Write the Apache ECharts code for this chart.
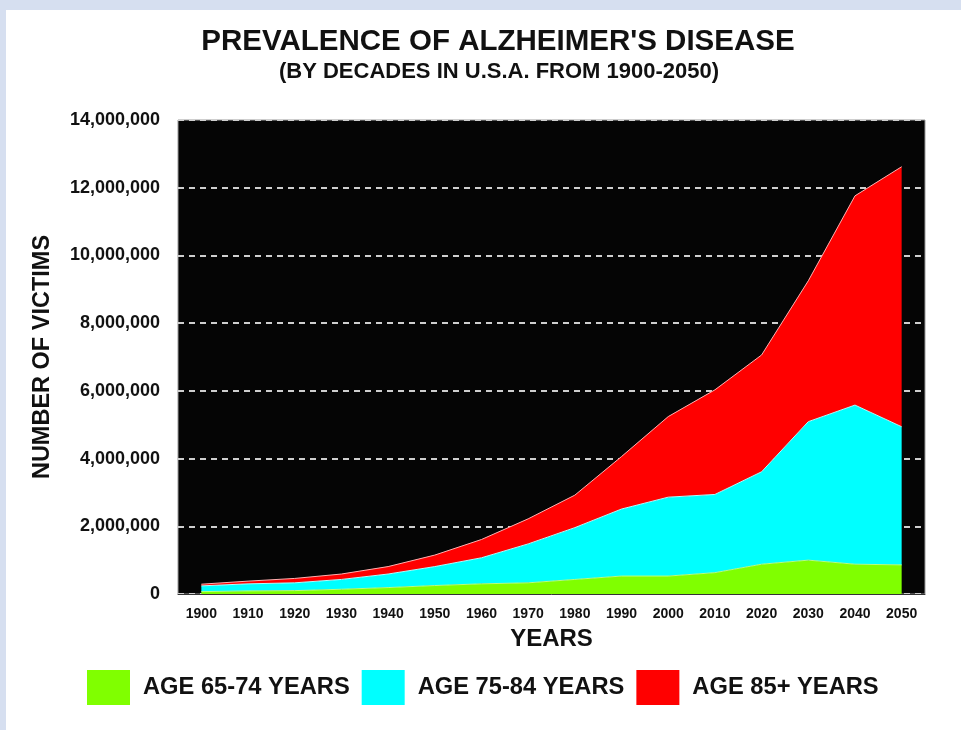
<!DOCTYPE html>
<html>
<head>
<meta charset="utf-8">
<script src="https://cdn.jsdelivr.net/npm/echarts@6/dist/echarts.min.js"></script>
<style>
  html, body { margin: 0; padding: 0; background: #fff; }
  #main { width: 961px; height: 730px; }
</style>
</head>
<body>
<div id="main"></div>
<script>
// decades on the x axis
const years = ['1900', '1910', '1920', '1930', '1940', '1950', '1960', '1970',
  '1980', '1990', '2000', '2010', '2020', '2030', '2040', '2050']

// number of victims per age group (stacked)
const age65to74 = [70000, 90000, 100000, 140000, 190000, 250000, 300000, 330000,
  430000, 530000, 530000, 630000, 880000, 1000000, 880000, 860000]
const age75to84 = [170000, 210000, 230000, 290000, 400000, 560000, 770000, 1150000,
  1530000, 1980000, 2330000, 2310000, 2730000, 4090000, 4700000, 4080000]
const age85plus = [50000, 80000, 130000, 160000, 220000, 340000, 540000, 740000,
  960000, 1550000, 2380000, 3090000, 3450000, 4160000, 6180000, 7680000]

const seriesNames = ['AGE 65-74 YEARS', 'AGE 75-84 YEARS', 'AGE 85+ YEARS']

const font = 'Liberation Sans, Arial, sans-serif'

const myChart = echarts.init(document.getElementById('main'))

function areaSeries(name, data, color, edge) {
  return {
    name: name,
    type: 'line',
    stack: 'total',
    data: data,
    showSymbol: false,
    symbol: 'none',
    lineStyle: { width: 1, color: edge },
    itemStyle: { color: color },
    areaStyle: { color: color, opacity: 1 }
  }
}

myChart.setOption({
  backgroundColor: '#fff',
  animation: false,
  graphic: [
    { type: 'rect', left: 0, top: 0, shape: { width: 961, height: 10 }, style: { fill: '#d6dff0' } },
    { type: 'rect', left: 0, top: 0, shape: { width: 6, height: 730 }, style: { fill: '#d6dff0' } }
  ],
  title: [
    {
      text: "PREVALENCE OF ALZHEIMER'S DISEASE",
      left: 493, top: 22, textAlign: 'center',
      textStyle: { fontFamily: font, fontSize: 29.5, fontWeight: 'bold', color: '#111' }
    },
    {
      text: '(BY DECADES IN U.S.A. FROM 1900-2050)',
      left: 494, top: 56, textAlign: 'center',
      textStyle: { fontFamily: font, fontSize: 22, fontWeight: 'bold', color: '#111' }
    }
  ],
  legend: {
    left: 87, top: 670,
    padding: 0,
    icon: 'rect',
    itemWidth: 43, itemHeight: 35, itemGap: 12,
    textStyle: { fontFamily: font, fontSize: 23.7, fontWeight: 'bold', color: '#111', padding: [0, 0, 0, 8] },
    data: seriesNames
  },
  grid: {
    left: 178, right: 36, top: 120, bottom: 136,
    show: true, backgroundColor: '#050505', borderColor: '#999', borderWidth: 1
  },
  xAxis: {
    type: 'category',
    data: years,
    boundaryGap: true,
    name: 'YEARS',
    nameLocation: 'middle',
    nameGap: 33,
    nameTextStyle: { fontFamily: font, fontSize: 24, fontWeight: 'bold', color: '#111' },
    axisLine: { lineStyle: { color: '#333', width: 1 } },
    axisTick: { alignWithLabel: true, length: 6, lineStyle: { color: '#666' } },
    axisLabel: { fontFamily: font, fontSize: 14, fontWeight: 'bold', color: '#111', margin: 13 }
  },
  yAxis: {
    type: 'value',
    min: 0, max: 14000000, interval: 2000000,
    name: 'NUMBER OF VICTIMS',
    nameLocation: 'middle',
    nameRotate: 90,
    nameGap: 123,
    nameTextStyle: { fontFamily: font, fontSize: 23.5, fontWeight: 'bold', color: '#111' },
    axisLine: { show: false },
    axisTick: { show: false },
    axisLabel: {
      fontFamily: font, fontSize: 18, fontWeight: 'bold', color: '#111', margin: 18,
      formatter: v => v.toLocaleString('en-US')
    },
    splitLine: { lineStyle: { color: '#cfcfcf', width: 2, type: [6, 5] } }
  },
  series: [
    areaSeries(seriesNames[0], age65to74, '#80ff00', '#b8ff80'),
    areaSeries(seriesNames[1], age75to84, '#00ffff', '#b0ffff'),
    areaSeries(seriesNames[2], age85plus, '#ff0000', '#ffb0b0')
  ]
})
</script>
</body>
</html>
